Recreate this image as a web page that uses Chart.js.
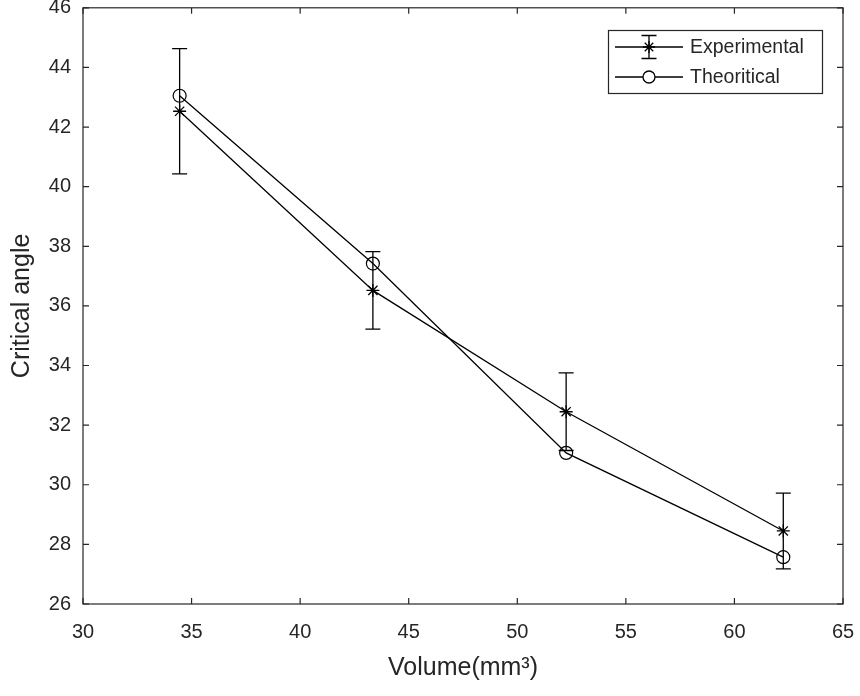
<!DOCTYPE html>
<html>
<head>
<meta charset="utf-8">
<script src="https://cdn.jsdelivr.net/npm/chart.js@4/dist/chart.umd.min.js"></script>
<style>
  html, body { margin: 0; padding: 0; background: #fff; }
  #wrap { width: 860px; height: 696px; }
</style>
</head>
<body>
<div id="wrap"><canvas id="chart1"></canvas></div>
<script>
// values
var volume = [34.45, 43.35, 52.25, 62.25];
var experimental = [42.53, 36.52, 32.45, 28.45];
var theoretical = [43.05, 37.42, 31.07, 27.57];
var expError = [2.1, 1.3, 1.3, 1.27];

var xTicks = [30, 35, 40, 45, 50, 55, 60, 65];
var yTicks = [26, 28, 30, 32, 34, 36, 38, 40, 42, 44, 46];

var axisColor = '#262626';
var fontFam = '"Liberation Sans", Arial, sans-serif';

function toPoints(xs, ys) {
    return xs.map(function (x, i) { return { x: x, y: ys[i] }; });
}

// error bars, box, inward ticks and legend, MATLAB style
var matlabBits = {
    id: 'matlabBits',
    afterDatasetsDraw: function (chart) {
        var ctx = chart.ctx;
        var xs = chart.scales.x, ys = chart.scales.y;
        var a = chart.chartArea;
        ctx.save();
        ctx.strokeStyle = '#000';
        ctx.lineWidth = 1.3;
        volume.forEach(function (v, i) {
            var px = xs.getPixelForValue(v);
            var top = ys.getPixelForValue(experimental[i] + expError[i]);
            var bot = ys.getPixelForValue(experimental[i] - expError[i]);
            ctx.beginPath();
            ctx.moveTo(px, top); ctx.lineTo(px, bot);
            ctx.moveTo(px - 7.5, top); ctx.lineTo(px + 7.5, top);
            ctx.moveTo(px - 7.5, bot); ctx.lineTo(px + 7.5, bot);
            ctx.stroke();
        });

        // box
        ctx.strokeStyle = axisColor;
        ctx.lineWidth = 1.2;
        ctx.strokeRect(a.left, a.top, a.right - a.left, a.bottom - a.top);

        // inward ticks on all four sides
        var tl = 6;
        ctx.beginPath();
        xTicks.forEach(function (t) {
            var px = xs.getPixelForValue(t);
            ctx.moveTo(px, a.bottom); ctx.lineTo(px, a.bottom - tl);
            ctx.moveTo(px, a.top); ctx.lineTo(px, a.top + tl);
        });
        yTicks.forEach(function (t) {
            var py = ys.getPixelForValue(t);
            ctx.moveTo(a.left, py); ctx.lineTo(a.left + tl, py);
            ctx.moveTo(a.right, py); ctx.lineTo(a.right - tl, py);
        });
        ctx.stroke();

        // legend
        var lx = 608, ly = 30, lw = 214, lh = 63;
        ctx.fillStyle = '#fff';
        ctx.fillRect(lx, ly, lw, lh);
        ctx.strokeStyle = axisColor;
        ctx.lineWidth = 1.2;
        ctx.strokeRect(lx + 0.5, ly + 0.5, lw, lh);

        ctx.strokeStyle = '#000';
        ctx.lineWidth = 1.3;
        var r1 = 47, r2 = 77, mx = 649, x0 = 615, x1 = 683;
        ctx.beginPath();
        ctx.moveTo(x0, r1); ctx.lineTo(x1, r1);
        ctx.moveTo(mx, r1 - 11.5); ctx.lineTo(mx, r1 + 11.5);
        ctx.moveTo(mx - 7.5, r1 - 11.5); ctx.lineTo(mx + 7.5, r1 - 11.5);
        ctx.moveTo(mx - 7.5, r1 + 11.5); ctx.lineTo(mx + 7.5, r1 + 11.5);
        ctx.moveTo(x0, r2); ctx.lineTo(mx - 6, r2);
        ctx.moveTo(mx + 6, r2); ctx.lineTo(x1, r2);
        ctx.stroke();
        Chart.helpers.drawPoint(ctx, { pointStyle: 'star', radius: 6, borderWidth: 1.3 }, mx, r1);
        ctx.beginPath();
        ctx.arc(mx, r2, 6, 0, Math.PI * 2);
        ctx.stroke();

        ctx.fillStyle = axisColor;
        ctx.font = '19.5px ' + fontFam;
        ctx.textBaseline = 'middle';
        ctx.fillText('Experimental', 690, r1 + 1);
        ctx.fillText('Theoritical', 690, r2 + 1);
        ctx.restore();
    }
};

new Chart(document.getElementById('chart1'), {
    type: 'scatter',
    data: {
        datasets: [{
            label: 'Experimental',
            data: toPoints(volume, experimental),
            showLine: true,
            borderColor: '#000',
            backgroundColor: '#000',
            borderWidth: 1.3,
            pointStyle: 'star',
            pointRadius: 6.5,
            pointBorderWidth: 1.3
        }, {
            label: 'Theoritical',
            data: toPoints(volume, theoretical),
            showLine: true,
            borderColor: '#000',
            backgroundColor: 'rgba(255,255,255,0)',
            borderWidth: 1.3,
            pointStyle: 'circle',
            pointRadius: 6.5,
            pointBorderWidth: 1.2
        }]
    },
    options: {
        responsive: true,
        maintainAspectRatio: false,
        animation: false,
        layout: { padding: { top: 7, right: 17, left: 0, bottom: 0 } },
        plugins: {
            legend: { display: false },
            tooltip: { enabled: false }
        },
        scales: {
            x: {
                type: 'linear',
                min: 30, max: 65,
                afterBuildTicks: function (s) { s.ticks = xTicks.map(function (v) { return { value: v }; }); },
                afterFit: function (s) { s.height = 92; s.paddingLeft = 0; s.paddingRight = 0; },
                grid: { display: false, drawTicks: false },
                border: { display: false },
                ticks: {
                    color: axisColor,
                    padding: 16,
                    maxRotation: 0,
                    font: { family: fontFam, size: 20 }
                },
                title: {
                    display: true,
                    text: 'Volume(mm³)',
                    color: axisColor,
                    padding: { top: 0, bottom: 13 },
                    font: { family: fontFam, size: 25 }
                }
            },
            y: {
                type: 'linear',
                min: 26, max: 46,
                afterBuildTicks: function (s) { s.ticks = yTicks.map(function (v) { return { value: v }; }); },
                afterFit: function (s) { s.width = 83; s.paddingTop = 0; s.paddingBottom = 0; },
                grid: { display: false, drawTicks: false },
                border: { display: false },
                ticks: {
                    color: axisColor,
                    padding: 12,
                    font: { family: fontFam, size: 20 }
                },
                title: {
                    display: true,
                    text: 'Critical angle',
                    color: axisColor,
                    padding: { top: 7, bottom: 0 },
                    font: { family: fontFam, size: 25 }
                }
            }
        }
    },
    plugins: [matlabBits]
});
</script>
</body>
</html>
